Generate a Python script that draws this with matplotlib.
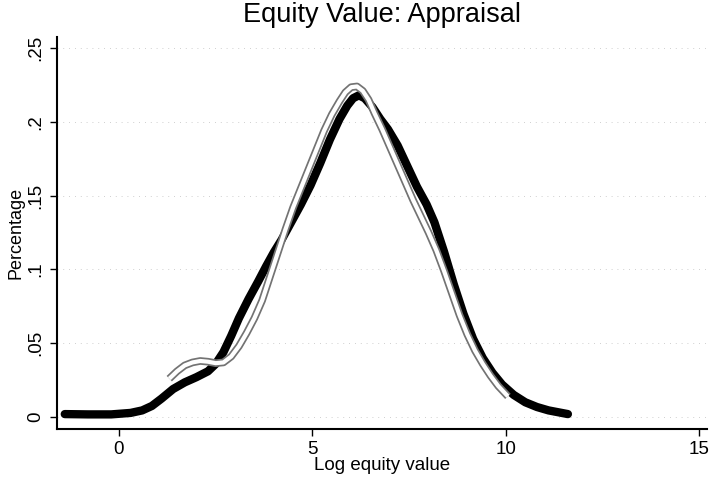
import numpy as np
import matplotlib.pyplot as plt

plt.rcParams['font.family'] = ['Liberation Sans', 'DejaVu Sans']

# black density curve
x_black = [-1.4, -0.8, -0.2, 0.3, 0.6, 0.85, 1.1, 1.4, 1.7, 2.0, 2.3, 2.5, 2.7, 2.9,
           3.1, 3.35, 3.6, 3.8, 4.0, 4.2, 4.45, 4.7, 4.95, 5.2, 5.45, 5.7, 5.9, 6.05,
           6.2, 6.35, 6.55, 6.75, 6.95, 7.2, 7.45, 7.7, 7.95, 8.15, 8.4, 8.65, 8.9,
           9.15, 9.4, 9.65, 9.9, 10.2, 10.5, 10.8, 11.1, 11.4, 11.6]
y_black = [0.0020, 0.0018, 0.0018, 0.0028, 0.0045, 0.0075, 0.0125, 0.0190, 0.0235,
           0.0270, 0.0310, 0.0360, 0.0440, 0.0550, 0.0670, 0.0800, 0.0920, 0.1020,
           0.1115, 0.1200, 0.1320, 0.1440, 0.1570, 0.1720, 0.1880, 0.2020, 0.2110,
           0.2160, 0.2180, 0.2160, 0.2100, 0.2020, 0.1950, 0.1840, 0.1700, 0.1560,
           0.1440, 0.1320, 0.1120, 0.0900, 0.0700, 0.0530, 0.0400, 0.0300, 0.0220,
           0.0150, 0.0100, 0.0068, 0.0045, 0.0030, 0.0020]

# hollow gray density curve
x_gray = [1.3, 1.5, 1.7, 1.9, 2.1, 2.3, 2.5, 2.7, 2.9, 3.1, 3.3, 3.5, 3.7, 3.9, 4.1,
          4.3, 4.5, 4.7, 4.9, 5.1, 5.3, 5.5, 5.7, 5.85, 6.0, 6.15, 6.3, 6.45, 6.6,
          6.8, 7.0, 7.2, 7.4, 7.6, 7.8, 8.0, 8.2, 8.4, 8.6, 8.8, 9.0, 9.2, 9.4, 9.6,
          9.8, 10.05]
y_gray = [0.026, 0.031, 0.035, 0.037, 0.038, 0.0375, 0.0365, 0.037, 0.041, 0.048,
          0.057, 0.067, 0.079, 0.095, 0.111, 0.127, 0.142, 0.155, 0.168, 0.181, 0.194,
          0.205, 0.214, 0.220, 0.2235, 0.224, 0.221, 0.215, 0.206, 0.195, 0.183, 0.171,
          0.159, 0.147, 0.136, 0.125, 0.113, 0.099, 0.084, 0.069, 0.056, 0.045, 0.036,
          0.028, 0.021, 0.014]

xticks = [0, 5, 10, 15]
yticks = [0, 0.05, 0.1, 0.15, 0.2, 0.25]
ytick_labels = ['0', '.05', '.1', '.15', '.2', '.25']

fig = plt.figure(figsize=(7.22, 5), dpi=100)
ax = fig.add_axes([0.079, 0.142, 0.900, 0.784])

for yt in yticks:
    ax.axhline(yt, color='0.75', lw=0.6, ls=(0, (1, 6)), zorder=0)

ax.plot(x_black, y_black, color='black', lw=6, solid_capstyle='round',
        solid_joinstyle='round', zorder=2)
ax.plot(x_gray, y_gray, color='0.45', lw=5.5, solid_capstyle='butt',
        solid_joinstyle='round', zorder=3)
ax.plot(x_gray, y_gray, color='white', lw=3, solid_capstyle='butt',
        solid_joinstyle='round', zorder=4)

ax.set_xlim(-1.6, 15.19)
ax.set_ylim(-0.0081, 0.2575)
ax.set_xticks(xticks)
ax.set_yticks(yticks)
ax.set_yticklabels(ytick_labels, rotation=90, va='center')
ax.tick_params(axis='both', direction='out', length=5, width=1, labelsize=13.5, pad=4)

ax.spines['top'].set_visible(False)
ax.spines['right'].set_visible(False)
ax.spines['left'].set_linewidth(1.5)
ax.spines['bottom'].set_linewidth(1.5)

ax.set_title('Equity Value: Appraisal', fontsize=19.5, pad=11)
ax.set_xlabel('Log equity value', fontsize=13.5, labelpad=-1)
ax.set_ylabel('Percentage', fontsize=13, labelpad=2)

fig.savefig('out.png', dpi=100)
